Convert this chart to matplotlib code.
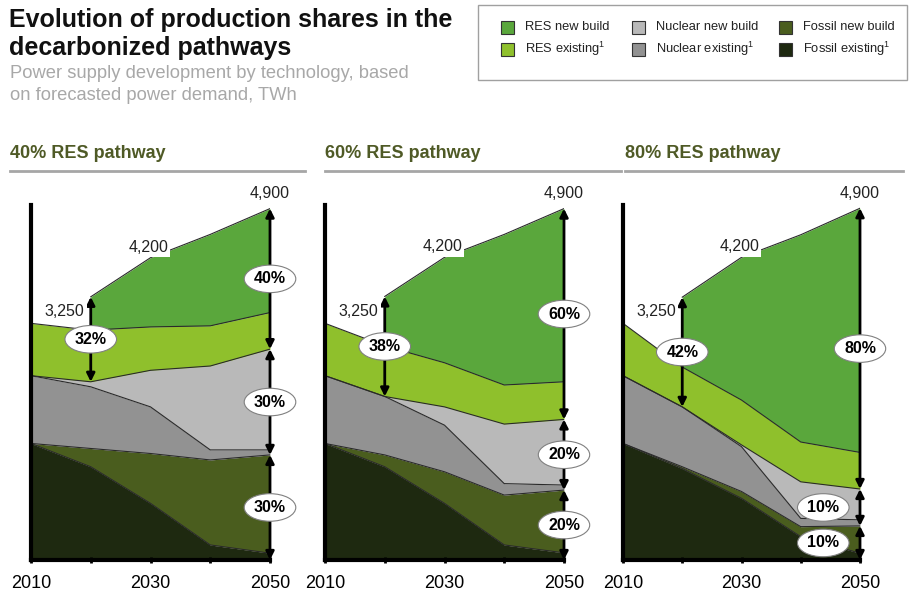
import numpy as np
import matplotlib.pyplot as plt
from matplotlib.patches import Rectangle
from matplotlib.lines import Line2D

plt.rcParams['font.family'] = ['Liberation Sans', 'DejaVu Sans']
plt.rcParams['mathtext.default'] = 'regular'

# data, TWh per technology, rows = 40% / 60% / 80% RES pathway
years = [2010, 2020, 2030, 2040, 2050]
pathways = ['40% RES pathway', '60% RES pathway', '80% RES pathway']

fossil_existing = [[1625, 1300, 790, 210, 95],
                   [1625, 1300, 790, 210, 100],
                   [1625, 1275, 860, 325, 95]]
fossil_new = [[0, 255, 695, 1185, 1370],
              [0, 165, 440, 695, 875],
              [0, 25, 95, 140, 380]]
nuclear_existing = [[945, 860, 650, 140, 70],
                    [945, 815, 650, 160, 70],
                    [945, 835, 625, 115, 85]]
nuclear_new = [[0, 70, 510, 1170, 1405],
               [0, 0, 255, 830, 915],
               [0, 0, 25, 510, 430]]
res_existing = [[730, 720, 605, 560, 510],
                [730, 705, 615, 545, 525],
                [730, 555, 625, 555, 510]]
res_new = [[np.nan, 465, 965, 1275, 1450],
           [np.nan, 690, 1470, 2100, 2415],
           [np.nan, 975, 1990, 2890, 3405]]

demand_labels = ['3,250', '4,200', '4,900']
res_share_2020 = ['32%', '38%', '42%']
res_share_2050 = ['40%', '60%', '80%']
nuclear_share_2050 = ['30%', '20%', '10%']
fossil_share_2050 = ['30%', '20%', '10%']

tech_names = ['Fossil existing$^1$', 'Fossil new build', 'Nuclear existing$^1$',
              'Nuclear new build', 'RES existing$^1$', 'RES new build']
colors = ['#1e2910', '#4a5d1e', '#929292', '#b9b9b9', '#8fc02c', '#5aa73c']

W, H = 912, 594
def fx(x):
    return x / W
def fy(y):
    return 1 - y / H

fig = plt.figure(figsize=(9.12, 5.94), dpi=100)

# title, one text per line so the baselines sit where they should
fig.text(fx(9), fy(27), 'Evolution of production shares in the', fontsize=18,
         fontweight='bold', va='baseline', ha='left', color='#111111')
fig.text(fx(9), fy(55), 'decarbonized pathways', fontsize=18,
         fontweight='bold', va='baseline', ha='left', color='#111111')
fig.text(fx(10), fy(78), 'Power supply development by technology, based', fontsize=13.2,
         color='#a8a8a8', va='baseline', ha='left')
fig.text(fx(10), fy(100), 'on forecasted power demand, TWh', fontsize=13.2,
         color='#a8a8a8', va='baseline', ha='left')

# legend box
fig.patches.append(Rectangle((fx(478), fy(80)), fx(907) - fx(478), fy(5) - fy(80),
                             transform=fig.transFigure, fill=False, ec='#a0a0a0', lw=1))
leg_order = [5, 4, 3, 2, 1, 0]
col_x = [501, 632, 779]
row_y = [27.5, 49]
for n, k in enumerate(leg_order):
    c, r = n // 2, n % 2
    fig.patches.append(Rectangle((fx(col_x[c]), fy(row_y[r] + 6.5)), 13 / W, 13 / H,
                                 transform=fig.transFigure, fc=colors[k], ec='#333333', lw=0.8))
    fig.text(fx(col_x[c] + 24), fy(row_y[r]), tech_names[k], fontsize=9.3,
             va='center', ha='left', color='#222222')

panel_left = [31, 325, 623]
panel_right = [270, 564, 860]
header_x = [10, 325, 625]
line_ends = [305, 621, 903]

for i in range(3):
    ax = fig.add_axes([fx(panel_left[i]), fy(560), (panel_right[i] - panel_left[i]) / W,
                       (560 - 205) / H])
    vals = np.array([fossil_existing[i], fossil_new[i], nuclear_existing[i],
                     nuclear_new[i], res_existing[i], res_new[i]], dtype=float)
    filled = np.nan_to_num(vals)
    tops = np.cumsum(filled, axis=0)
    bottoms = tops - filled
    for k in range(6):
        ok = ~np.isnan(vals[k])
        ax.fill_between(years, bottoms[k], tops[k], where=ok, color=colors[k], lw=0,
                        interpolate=False)
    for k in range(6):
        line = np.where(np.isnan(vals[k]), np.nan, tops[k])
        ax.plot(years, line, color='#2a2a2a', lw=0.8)

    ax.set_xlim(2010, 2050)
    ax.set_ylim(0, 4950)
    for s in ['top', 'right']:
        ax.spines[s].set_visible(False)
    for s in ['left', 'bottom']:
        ax.spines[s].set_linewidth(3)
        ax.spines[s].set_color('black')
    ax.set_yticks([])
    ax.set_xticks(years)
    ax.set_xticklabels(['2010', '', '2030', '', '2050'], fontsize=13)
    ax.tick_params(axis='x', length=4, width=2, direction='inout', pad=9)

    total = tops[-1]
    # 2020 RES share arrow
    arrow = dict(arrowstyle='<|-|>', color='black', lw=2, mutation_scale=12,
                 shrinkA=0, shrinkB=0)
    ax.annotate('', xy=(2020, total[1]), xytext=(2020, tops[3][1]), arrowprops=arrow,
                annotation_clip=False)
    ell = dict(boxstyle='ellipse,pad=0.14', fc='white', ec='#808080', lw=0.8)
    ax.text(2020, (total[1] + tops[3][1]) / 2, res_share_2020[i], ha='center', va='center',
            fontsize=11.5, fontweight='bold', bbox=ell, zorder=5)

    # 2050 share arrows
    segs = [(total[4], tops[3][4], res_share_2050[i]),
            (tops[3][4], tops[1][4], nuclear_share_2050[i]),
            (tops[1][4], 0, fossil_share_2050[i])]
    for top, bot, lab in segs:
        ax.annotate('', xy=(2050, top), xytext=(2050, bot), arrowprops=arrow,
                    annotation_clip=False)
        lx = 2050 if top - bot > 700 else 2043.8
        ax.text(lx, (top + bot) / 2, lab, ha='center', va='center', fontsize=11.5,
                fontweight='bold', bbox=ell, zorder=5, clip_on=False)

    # demand labels
    box = dict(boxstyle='square,pad=0.15', fc='white', ec='none')
    ax.text(2018.9, total[0] + 170, demand_labels[0], ha='right', va='center',
            fontsize=11.5, bbox=box, color='#222222')
    ax.text(2029.6, total[2] + 40, demand_labels[1], ha='center', va='bottom',
            fontsize=11.5, bbox=box, color='#222222')
    ax.text(2050, total[4] + 100, demand_labels[2], ha='center', va='bottom',
            fontsize=11.5, color='#222222', clip_on=False)

    # header
    fig.text(fx(header_x[i]), fy(153), pathways[i], fontsize=13, fontweight='bold',
             color='#4f5a26', va='center', ha='left')
    fig.add_artist(Line2D([fx(header_x[i]), fx(line_ends[i])], [fy(171), fy(171)],
                          color='#a6a6a6', lw=2))

fig.savefig('out.png', dpi=100)
